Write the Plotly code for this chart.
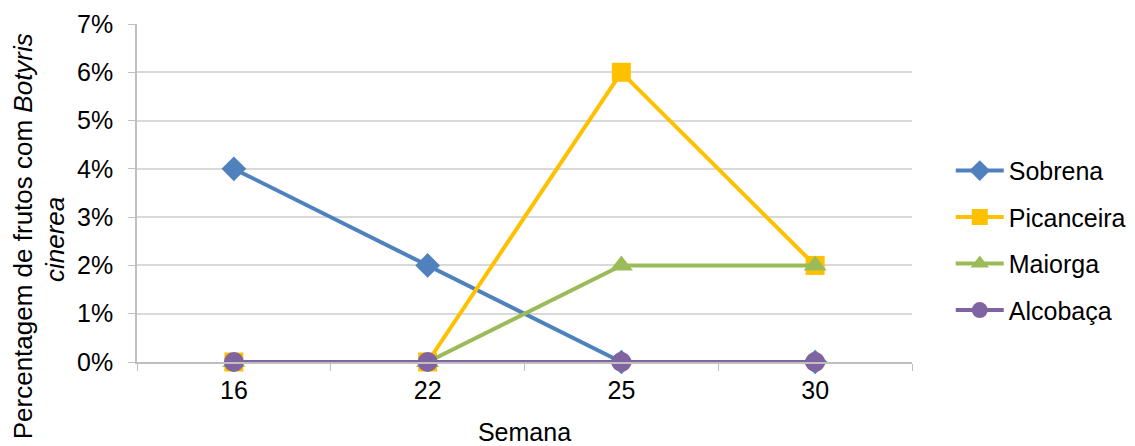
import plotly.graph_objects as go

semanas = ["16", "22", "25", "30"]
sobrena = [0.04, 0.02, 0.0, 0.0]
picanceira = [0.0, 0.0, 0.06, 0.02]
maiorga = [0.0, 0.0, 0.02, 0.02]
alcobaca = [0.0, 0.0, 0.0, 0.0]

series = [
    ("Sobrena", sobrena, "#4F81BD", "diamond", 19),
    ("Picanceira", picanceira, "#FFC000", "square", 19),
    ("Maiorga", maiorga, "#9BBB59", "triangle-up", 20),
    ("Alcobaça", alcobaca, "#8064A2", "circle", 20),
]

fig = go.Figure()
for name, vals, color, sym, size in series:
    fig.add_trace(go.Scatter(
        x=semanas, y=vals, name=name, mode="lines+markers",
        line=dict(color=color, width=4),
        marker=dict(symbol=sym, size=size, color=color),
        legendgroup=name, cliponaxis=False,
    ))

font = dict(family="Liberation Sans, Arial, sans-serif", size=25, color="black")
title_font = dict(family="Liberation Sans, Arial, sans-serif", size=26, color="black")

# page body has an 8px default margin, so the figure is offset by 8px
fig.update_layout(
    width=1127, height=438,
    margin=dict(l=129, r=223, t=16, b=84, autoexpand=False),
    paper_bgcolor="white", plot_bgcolor="white",
    font=font,
    showlegend=True,
    legend=dict(x=1.05, xanchor="left", y=0.36, yanchor="middle",
                font=font, tracegroupgap=11, itemwidth=48),
    xaxis=dict(
        type="category", range=[-0.5, 3.5], automargin=False,
        showline=True, linecolor="#BFBFBF", linewidth=1.5,
        ticks="outside", tickson="boundaries", ticklen=7, tickcolor="#BFBFBF",
        showgrid=False, zeroline=False, ticklabelstandoff=5,
        title=dict(text="Semana", font=font, standoff=28),
        tickfont=font,
    ),
    yaxis=dict(
        range=[0, 0.07], dtick=0.01, tickformat=".0%", automargin=False,
        showline=True, linecolor="#BFBFBF", linewidth=1.5,
        ticks="outside", ticklen=7, tickcolor="#BFBFBF",
        showgrid=True, gridcolor="#D9D9D9", gridwidth=1.5,
        zeroline=False, tickfont=font, ticklabelstandoff=10,
    ),
    annotations=[
        dict(text="Percentagem de frutos com <i>Botyris</i>",
             textangle=-90, xref="paper", yref="paper",
             x=0, y=0.372, xanchor="center", yanchor="middle",
             xshift=-114, showarrow=False, font=title_font),
        dict(text="<i>cinerea</i>",
             textangle=-90, xref="paper", yref="paper",
             x=0, y=0.361, xanchor="center", yanchor="middle",
             xshift=-82, showarrow=False, font=title_font),
    ],
)

fig.write_html("out.html")
